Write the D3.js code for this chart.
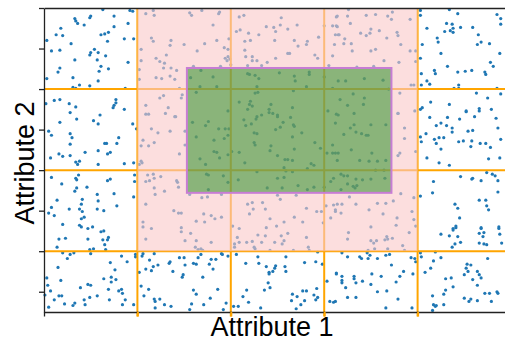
<!DOCTYPE html>
<html>
<head>
<meta charset="utf-8">
<script src="https://cdn.jsdelivr.net/npm/d3@7"></script>
<style>
  body { margin: 0; background: #fff; }
  svg { display: block; }
</style>
</head>
<body>
<svg id="chart" width="505" height="342"></svg>
<script>
// axis ranges and ticks (no tick labels on this chart)
var xDomain = [0, 5];
var yDomain = [0.25, 4];
var xTicks = [0, 1, 2, 3, 4, 5];
var yTicks = [0.5, 1, 1.5, 2, 2.5, 3, 3.5, 4];

// orange split lines
var gridX = [1, 2, 3, 4];
var gridY = [1, 2, 3];

// shaded boxes
var pinkX = [1, 4];
var pinkY = [1, 4];
var greenX = [1.53, 3.72];
var greenY = [1.72, 3.26];

// scatter points
var points = [
  // top left cell
  [0.63,3.98],[0.92,3.97],[0.95,3.96],[0.75,3.90],[0.50,3.90],[0.49,3.88],[0.33,3.87],[0.34,3.84],
  [0.36,3.81],[0.43,3.79],[0.90,3.81],[0.18,3.75],[0.75,3.77],[0.69,3.70],[0.65,3.68],[0.13,3.67],
  [0.20,3.66],[0.61,3.67],[0.03,3.60],[0.29,3.56],[0.68,3.59],[0.86,3.62],[0.96,3.62],[0.08,3.47],
  [0.17,3.48],[0.54,3.49],[0.50,3.45],[0.49,3.42],[0.58,3.45],[0.57,3.36],[0.66,3.41],[0.33,3.36],
  [0.90,3.33],[0.17,3.26],[0.15,3.21],[0.61,3.28],[0.59,3.22],[0.69,3.25],[0.03,3.13],[0.31,3.14],
  [0.38,3.05],[0.58,3.10],[0.31,3.02],[0.34,3.01],[0.49,3.04],[0.87,3.01],
  [0.02,2.82],[0.11,2.86],[0.17,2.87],[0.27,2.82],[0.34,2.78],[0.77,2.87],[0.77,2.83],[0.75,2.80],
  [0.74,2.77],[0.86,2.75],
  // top, pink band
  [1.09,3.93],[1.17,3.97],[1.18,3.91],[1.15,3.63],[1.17,3.59],[1.04,3.49],[1.20,3.38],[1.24,3.34],
  [1.29,3.32],[1.28,3.26],[1.04,3.35],[1.02,3.24],[1.02,3.12],[1.20,3.14],[1.26,3.13],[1.31,3.42],
  [1.24,2.89],[1.28,2.92],[1.09,2.80],[1.33,2.77],
  [1.56,3.94],[1.58,3.91],[1.69,3.97],[1.88,3.95],[1.87,3.93],[1.81,3.79],[1.36,3.60],[1.35,3.54],
  [1.50,3.55],[1.72,3.56],[1.64,3.47],[1.85,3.60],[1.93,3.51],[1.97,3.49],[1.98,3.62],[1.94,3.38],
  [1.97,3.40],[1.99,3.37],[1.96,3.35],[1.89,3.28],[2.00,3.30],[1.36,3.26],[1.42,3.23],[1.60,3.28],
  [1.35,3.16],[1.40,3.12],[1.45,3.01],[1.48,2.93],[1.47,2.89],[1.40,2.66],
  [2.09,3.89],[2.14,3.91],[2.10,3.73],[2.06,3.71],[2.19,3.69],[2.30,3.67],[2.38,3.77],[2.46,3.76],
  [2.48,3.71],[2.54,3.88],[2.53,3.79],[2.61,3.74],[2.71,3.79],[2.21,3.60],[2.15,3.59],[2.47,3.60],
  [2.68,3.60],[2.72,3.53],[2.82,3.59],[2.81,3.55],[2.15,3.48],[2.23,3.40],[2.16,3.40],[2.23,3.35],
  [2.28,3.35],[2.39,3.33],[2.48,3.38],[2.61,3.44],[2.63,3.44],[2.18,3.29],[2.33,3.29],[2.90,3.42],
  [2.93,3.38],[2.94,3.64],[3.05,3.29],[3.09,3.41],[3.11,3.55],[3.12,3.67],[3.15,3.67],[3.09,3.78],
  [3.13,3.78],[3.13,3.89],[3.00,3.78],
  [3.14,3.90],[3.26,3.98],[3.25,3.90],[3.45,3.91],[3.55,3.92],[3.68,3.90],[3.73,3.95],[3.72,3.86],
  [3.92,3.86],[3.28,3.81],[3.14,3.77],[3.16,3.67],[3.39,3.69],[3.50,3.74],[3.49,3.69],[3.45,3.66],
  [3.59,3.72],[3.78,3.70],[3.79,3.66],[3.22,3.62],[3.21,3.56],[3.29,3.56],[3.67,3.63],[3.82,3.55],
  [3.30,3.47],[3.50,3.47],[3.55,3.49],[3.92,3.47],[3.98,3.47],[3.64,3.35],[3.80,3.33],[3.35,3.27],
  [3.53,3.28],[3.93,3.05],[3.96,3.05],[3.98,3.34],[3.81,2.95],[3.79,2.70],[3.97,2.73],
  // inside the green box, upper half
  [1.68,3.23],[1.57,3.14],[1.67,3.03],[1.81,3.15],[1.85,3.03],[1.63,2.96],[1.97,2.73],[2.18,3.19],
  [2.20,3.18],[2.26,3.17],[2.30,3.13],[2.28,3.03],[2.26,2.95],[2.29,2.96],[2.52,3.20],[2.68,3.16],
  [2.69,3.10],[2.84,3.21],[2.84,3.18],[2.67,2.98],[2.81,3.03],[3.00,3.15],[3.09,3.01],[2.09,2.84],
  [2.21,2.85],[2.20,2.81],[2.18,2.75],[2.23,2.79],[2.43,2.81],[2.41,2.75],[2.50,2.68],[2.66,2.77],
  [3.04,2.73],[2.28,2.66],
  [3.15,3.10],[3.23,3.10],[3.43,3.13],[3.63,3.11],[3.69,3.00],[3.31,2.94],[3.43,2.89],[3.17,2.87],
  [3.42,2.81],[3.25,2.80],[3.32,2.70],[3.15,2.68],
  // top right cell
  [4.03,3.97],[4.03,3.91],[4.34,3.98],[4.43,3.93],[4.85,3.92],[4.89,3.87],[4.31,3.81],[4.37,3.80],
  [4.38,3.75],[4.10,3.75],[4.29,3.71],[4.35,3.72],[4.38,3.70],[4.46,3.76],[4.59,3.76],[4.65,3.67],
  [4.89,3.80],[4.21,3.63],[4.22,3.58],[4.05,3.55],[4.68,3.58],[4.64,3.55],[4.77,3.56],[4.25,3.44],
  [4.88,3.44],[4.03,3.38],[4.78,3.33],[4.81,3.28],[4.32,3.28],[4.18,3.23],[4.19,3.19],[4.04,3.19],
  [4.43,3.21],[4.51,3.22],[4.58,3.23],[4.72,3.21],[4.73,3.18],[4.10,3.10],[4.13,3.06],[4.04,3.05],
  [4.44,3.05],[4.39,3.01],[4.44,3.01],[4.85,3.01],
  [4.05,2.77],[4.03,2.75],[4.14,2.84],[4.34,2.81],[4.63,2.95],[4.75,2.89],[4.89,2.94],[4.52,2.73],
  [4.66,2.76],[4.79,2.75],
  // middle left cells
  [0.28,2.71],[0.35,2.63],[0.17,2.59],[0.53,2.61],[0.58,2.57],[0.60,2.68],[0.05,2.48],[0.08,2.43],
  [0.28,2.45],[0.30,2.40],[0.28,2.32],[0.95,2.57],[0.99,2.51],[0.80,2.40],[0.78,2.33],[0.65,2.33],
  [0.67,2.33],[0.68,2.20],[0.71,2.22],[0.58,2.24],[0.44,2.22],[0.16,2.20],[0.20,2.17],[0.28,2.18],
  [0.07,2.15],[0.38,2.11],[0.36,2.07],[0.34,2.10],[0.58,2.07],[0.86,2.08],[0.96,2.09],
  [0.08,1.91],[0.37,1.94],[0.34,1.90],[0.35,1.88],[0.19,1.83],[0.35,1.78],[0.33,1.74],[0.46,1.79],
  [0.68,1.87],[0.71,1.89],[0.97,1.94],[0.97,1.86],[0.57,1.70],[0.58,1.62],[0.75,1.71],[0.96,1.67],
  [0.14,1.63],[0.41,1.64],[0.40,1.58],[0.08,1.54],[0.05,1.47],[0.11,1.44],[0.27,1.52],[0.38,1.52],
  [0.57,1.52],[0.64,1.50],[0.78,1.56],[0.41,1.49],[0.43,1.42],[0.40,1.40],[0.20,1.33],[0.38,1.32],
  [0.40,1.30],[0.47,1.28],[0.52,1.30],
  // middle, pink band
  [1.09,2.69],[1.12,2.69],[1.30,2.70],[1.15,2.51],[1.22,2.46],[1.06,2.37],[1.04,2.30],[1.12,2.30],
  [1.18,2.34],[1.04,2.11],[1.05,2.09],[1.02,2.07],[1.11,1.94],[1.17,1.95],[1.13,1.87],[1.18,1.90],
  [1.09,1.86],[1.25,1.92],[1.18,1.78],[1.19,1.70],[1.29,1.74],[1.09,1.58],[1.06,1.36],[1.06,1.30],
  [1.15,1.28],
  [1.41,2.66],[1.35,2.48],[1.51,2.48],[1.51,2.31],[1.45,2.20],[1.42,1.87],[1.43,1.85],[1.44,1.79],
  [1.39,1.50],[1.44,1.47],[1.47,1.47],[1.47,1.29],
  [1.56,1.70],[1.69,1.66],[1.75,1.67],[1.90,1.70],[2.09,1.28],[2.02,1.31],[1.71,1.46],[1.79,1.44],
  [1.83,1.40],[1.90,1.42],[1.63,1.37],[1.72,1.36],[2.18,1.58],[2.23,1.60],[2.34,1.60],[2.24,1.52],
  [2.20,1.46],[2.37,1.52],[2.50,1.69],[2.53,1.64],[2.70,1.69],[2.81,1.53],[2.68,1.42],[2.42,1.40],
  [2.77,1.36],[2.57,1.36],[2.38,1.29],[2.49,1.31],[2.92,1.49],[2.97,1.49],[3.02,1.56],[3.10,1.57],
  [3.07,1.41],[3.12,1.49],[2.99,1.35],
  // inside the green box, lower half
  [1.59,2.59],[1.76,2.60],[1.73,2.55],[1.87,2.51],[1.94,2.51],[1.98,2.51],[1.63,2.41],[1.82,2.37],
  [1.93,2.39],[1.97,2.43],[1.82,2.23],[1.85,2.22],[1.97,2.19],[2.01,2.23],[2.09,2.22],[1.67,2.14],
  [1.73,2.07],[1.88,2.15],[2.15,2.09],[1.74,1.95],[1.76,1.94],[1.92,1.93],[1.97,1.85],[2.08,1.88],
  [1.76,1.76],[2.14,2.62],[2.16,2.55],[2.22,2.57],[2.27,2.63],[2.33,2.68],[2.41,2.71],[2.45,2.70],
  [2.50,2.66],[2.64,2.65],[2.56,2.59],[2.67,2.56],[2.68,2.54],[2.48,2.50],[2.53,2.53],[2.25,2.46],
  [2.28,2.45],[2.76,2.46],[2.66,2.41],[2.25,2.34],[2.26,2.31],[2.43,2.30],[2.42,2.24],[2.68,2.26],
  [2.90,2.34],[2.96,2.27],[2.50,2.18],[2.58,2.13],[2.61,2.13],[2.66,2.12],[2.86,2.08],[2.89,2.06],
  [2.82,2.02],[2.57,2.03],[2.59,1.99],[2.28,1.98],[2.66,1.98],[2.50,1.90],[2.57,1.91],[2.72,1.81],
  [2.82,1.76],[2.89,1.79],[2.39,1.78],[2.55,1.78],[3.03,2.21],[3.09,2.21],[3.09,2.31],[3.10,1.90],
  [3.07,1.86],[3.00,1.79],
  [3.13,2.69],[3.12,2.58],[3.28,2.52],[3.32,2.56],[3.34,2.47],[3.40,2.45],[3.45,2.43],[3.47,2.43],
  [3.21,2.44],[3.50,2.56],[3.66,2.56],[3.12,2.21],[3.15,2.21],[3.29,2.25],[3.38,2.12],[3.14,2.12],
  [3.51,2.21],[3.48,2.11],[3.57,2.11],[3.66,2.12],[3.55,2.00],[3.64,2.00],[3.18,1.95],[3.21,1.93],
  [3.25,1.93],[3.34,1.89],[3.41,1.88],[3.50,1.89],[3.65,1.90],[3.25,1.83],[3.31,1.80],[3.35,1.81],
  [3.33,1.78],[3.18,1.76],
  // right side of the pink band, middle
  [3.79,2.70],[3.86,2.52],[3.86,2.39],[3.81,2.21],[3.79,2.18],[3.98,2.23],[3.82,1.71],[3.74,1.62],
  [3.66,1.59],[3.96,1.66],[3.14,1.58],[3.19,1.58],[3.34,1.58],[3.27,1.67],[3.57,1.59],[3.94,1.49],
  [3.48,1.51],[3.63,1.46],[3.12,1.51],[3.18,1.47],[3.78,1.41],[3.77,1.32],[3.96,1.39],[3.50,1.30],
  [3.98,1.31],
  // middle right cells
  [4.13,2.65],[4.20,2.55],[4.25,2.58],[4.32,2.65],[4.31,2.55],[4.37,2.52],[4.37,2.47],[4.45,2.63],
  [4.52,2.72],[4.66,2.73],[4.61,2.66],[4.84,2.64],[4.54,2.48],[4.59,2.49],[4.86,2.52],[4.03,2.41],
  [4.04,2.35],[4.09,2.45],[4.18,2.38],[4.23,2.40],[4.28,2.40],[4.20,2.33],[4.25,2.26],[4.44,2.35],
  [4.49,2.36],[4.58,2.36],[4.57,2.29],[4.67,2.33],[4.73,2.33],[4.78,2.28],[4.89,2.38],[4.10,2.15],
  [4.23,2.09],[4.34,2.06],[4.76,2.14],[4.88,2.15],[4.74,1.97],[4.80,1.95],[4.83,1.93],[4.46,1.92],
  [4.59,1.90],[4.58,1.89],[4.68,1.87],[4.86,1.87],[4.17,1.86],[4.16,1.72],[4.86,1.73],[4.66,1.63],
  [4.73,1.63],[4.40,1.58],[4.43,1.53],[4.74,1.56],[4.76,1.51],[4.45,1.41],[4.41,1.31],[4.38,1.28],
  [4.68,1.29],[4.87,1.30],[4.03,1.68],
  // bottom left cell
  [0.61,1.24],[0.64,1.25],[0.16,1.15],[0.23,1.16],[0.47,1.15],[0.63,1.14],[0.68,1.14],[0.69,1.17],
  [0.65,1.08],[0.14,1.05],[0.49,1.02],[0.53,1.03],[0.50,0.97],[0.66,1.02],[0.20,0.98],[0.28,0.96],
  [0.32,0.98],[0.25,0.91],[0.83,0.94],[0.98,0.96],[0.98,0.93],[0.71,0.86],[0.89,0.87],[0.15,0.80],
  [0.76,0.77],[0.72,0.68],[0.77,0.65],[0.72,0.62],[0.64,0.66],[0.18,0.64],[0.03,0.67],[0.04,0.58],
  [0.07,0.51],[0.01,0.46],[0.47,0.59],[0.50,0.58],[0.39,0.55],[0.69,0.53],[0.80,0.51],[0.83,0.53],
  [0.84,0.48],[0.16,0.45],[0.19,0.45],[0.11,0.40],[0.49,0.43],[0.57,0.45],[0.43,0.40],[0.70,0.40],
  [0.87,0.40],[0.22,0.35],[0.31,0.33],[0.33,0.36],[0.44,0.34],[0.84,0.34],[0.96,0.34],[0.05,0.31],
  // bottom of the pink band
  [1.09,1.15],[1.47,1.24],[1.57,1.22],[1.51,1.13],[1.63,1.13],[1.79,1.11],[1.62,1.05],[1.65,1.02],
  [1.68,1.03],[1.70,1.01],[2.07,1.17],[2.09,1.11],[2.04,1.09],[2.04,1.05],[2.25,1.05],[2.26,1.03],
  [2.17,1.11],[2.23,1.12],[2.33,1.11],[2.29,1.20],[2.37,1.19],[2.47,1.11],[2.42,1.01],[2.54,1.19],
  [2.61,1.22],[2.57,1.13],[2.55,1.09],[2.81,1.17],[2.83,1.05],[2.84,1.01],[2.67,1.01],[2.93,0.99],
  [3.26,1.23],[3.25,1.15],[3.50,1.13],[3.56,1.13],[3.53,1.10],[3.54,1.03],[3.67,1.18],[3.68,1.15],
  [3.68,1.03],[3.65,1.14],[3.47,1.01],[3.46,0.98],[3.73,1.16],[3.84,1.07],[3.86,1.01],[3.91,1.23],
  [3.19,0.98],
  // bottom middle cells
  [1.05,0.94],[1.06,0.97],[1.18,0.97],[1.13,0.89],[1.22,0.83],[1.17,0.81],[1.09,0.78],[1.02,0.74],
  [1.15,0.76],[1.04,0.57],[1.12,0.53],[1.07,0.45],[1.18,0.41],[1.19,0.38],[1.24,0.41],[1.19,0.30],
  [1.29,0.34],[1.34,0.85],
  [1.35,0.87],[1.38,0.75],[1.45,0.92],[1.50,0.92],[1.51,0.83],[1.60,0.85],[1.63,0.84],[1.68,0.96],
  [1.65,0.92],[1.77,0.84],[1.79,0.90],[1.81,0.78],[1.84,0.90],[1.90,0.97],[1.91,0.96],[1.97,0.94],
  [1.48,0.68],[1.49,0.71],[1.70,0.68],[1.60,0.52],[1.63,0.47],[1.86,0.53],[1.78,0.42],[1.71,0.34],
  [1.58,0.35],[1.36,0.32],[1.95,0.36],[1.92,0.28],[1.56,0.28],[2.03,0.32],[2.08,0.32],
  [2.16,0.85],[2.30,0.85],[2.38,0.81],[2.06,0.96],[2.29,0.93],[2.41,0.74],[2.41,0.72],[2.48,0.82],
  [2.47,0.79],[2.45,0.75],[2.58,0.81],[2.59,0.75],[2.59,0.93],[2.40,0.61],[2.36,0.52],[2.42,0.55],
  [2.17,0.52],[2.19,0.37],[2.13,0.44],[2.32,0.30],[2.66,0.47],[2.71,0.44],[2.65,0.39],[2.77,0.51],
  [2.81,0.51],[2.79,0.39],[2.92,0.54],[2.89,0.46],[2.91,0.40],[2.93,0.43],[2.70,0.29],[2.75,0.34],
  [2.79,0.86],[2.91,0.87],[2.98,0.84],[3.03,0.63],[3.06,0.38],[3.10,0.37],[3.13,0.73],
  [3.25,0.93],[3.38,0.93],[3.40,0.91],[3.49,0.95],[3.47,0.91],[3.57,0.91],[3.70,0.96],[3.66,0.95],
  [3.93,0.92],[3.98,0.87],[3.97,0.91],[3.72,0.83],[3.13,0.72],[3.19,0.69],[3.19,0.64],[3.19,0.61],
  [3.23,0.55],[3.32,0.69],[3.32,0.66],[3.34,0.61],[3.41,0.63],[3.51,0.72],[3.50,0.59],[3.61,0.69],
  [3.77,0.62],[3.81,0.69],[3.85,0.75],[3.57,0.50],[3.67,0.51],[3.25,0.43],[3.34,0.43],[3.12,0.38],
  [3.79,0.41],[3.66,0.30],[3.94,0.30],[3.95,0.72],
  // bottom right cell
  [4.03,0.98],[4.04,0.93],[4.19,0.99],[4.25,1.21],[4.34,1.19],[4.38,1.26],[4.41,1.29],[4.43,1.18],
  [4.40,1.09],[4.46,1.11],[4.37,1.05],[4.68,1.28],[4.71,1.23],[4.66,1.22],[4.70,1.18],[4.66,1.10],
  [4.71,1.09],[4.74,1.08],[4.87,1.28],[4.88,1.21],[4.90,1.10],[4.17,0.88],[4.25,0.92],[4.14,0.79],
  [4.08,0.74],[4.53,0.84],[4.57,0.83],[4.52,0.79],[4.54,0.75],[4.50,0.71],[4.64,0.75],[4.66,0.71],
  [4.68,0.67],[4.75,0.91],[4.30,0.66],[4.36,0.67],[4.59,0.65],[4.64,0.58],[4.38,0.56],[4.30,0.52],
  [4.28,0.47],[4.16,0.45],[4.72,0.48],[4.77,0.48],[4.85,0.50],[4.86,0.48],[4.50,0.42],[4.57,0.41],
  [4.55,0.38],[4.64,0.39],[4.79,0.38],[4.17,0.34],[4.19,0.32],[4.20,0.33],[4.28,0.34],[4.16,0.27]
];

var svg = d3.select("#chart");

var x = d3.scaleLinear().domain(xDomain).range([44, 511]);
var y = d3.scaleLinear().domain(yDomain).range([312, 8]);

// points first, everything else is layered over them
svg.append("g")
    .selectAll("circle")
    .data(points)
    .enter().append("circle")
    .attr("cx", function(d) { return x(d[0]); })
    .attr("cy", function(d) { return y(d[1]); })
    .attr("r", 1.6)
    .attr("fill", "#1f77b4");

var lines = svg.append("g")
    .attr("stroke", "#ffa500")
    .attr("stroke-width", 2);

lines.selectAll(".vline")
    .data(gridX)
    .enter().append("line")
    .attr("class", "vline")
    .attr("x1", function(d) { return x(d); })
    .attr("x2", function(d) { return x(d); })
    .attr("y1", y(yDomain[1]))
    .attr("y2", y(yDomain[0]) + 4.5);

lines.selectAll(".hline")
    .data(gridY)
    .enter().append("line")
    .attr("class", "hline")
    .attr("x1", x(xDomain[0]))
    .attr("x2", x(xDomain[1]))
    .attr("y1", function(d) { return y(d); })
    .attr("y2", function(d) { return y(d); });

svg.append("rect")
    .attr("x", x(pinkX[0]))
    .attr("y", y(pinkY[1]))
    .attr("width", x(pinkX[1]) - x(pinkX[0]))
    .attr("height", y(pinkY[0]) - y(pinkY[1]))
    .attr("fill", "rgb(250,200,200)")
    .attr("fill-opacity", 0.6);

svg.append("rect")
    .attr("x", x(greenX[0]))
    .attr("y", y(greenY[1]))
    .attr("width", x(greenX[1]) - x(greenX[0]))
    .attr("height", y(greenY[0]) - y(greenY[1]))
    .attr("fill", "#008000")
    .attr("fill-opacity", 0.45)
    .attr("stroke", "#c77dd4")
    .attr("stroke-width", 2);

// axes: ticks without labels
var axisLeft = svg.append("g")
    .attr("transform", "translate(" + x(xDomain[0]) + ",0)")
    .call(d3.axisLeft(y).tickValues(yTicks).tickFormat("").tickSize(5).tickSizeOuter(0));

var axisBottom = svg.append("g")
    .attr("transform", "translate(0," + y(yDomain[0]) + ")")
    .call(d3.axisBottom(x).tickValues(xTicks).tickFormat("").tickSize(4.5).tickSizeOuter(0));

var axisTop = svg.append("g")
    .attr("transform", "translate(0," + y(yDomain[1]) + ")")
    .call(d3.axisTop(x).tickValues([]).tickSizeOuter(0));

svg.selectAll(".domain, .tick line")
    .attr("stroke", "#222")
    .attr("stroke-width", 1.3);

// orange split lines cover the x ticks under them
axisBottom.selectAll(".tick line")
    .filter(function(d) { return gridX.indexOf(d) >= 0; })
    .attr("stroke", "#ffa500")
    .attr("stroke-width", 2);

svg.append("text")
    .attr("x", 272)
    .attr("y", 336)
    .attr("text-anchor", "middle")
    .attr("font-family", "Liberation Sans, Arial, sans-serif")
    .attr("font-size", 27)
    .attr("fill", "#000")
    .text("Attribute 1");

svg.append("text")
    .attr("transform", "translate(34,163) rotate(-90)")
    .attr("text-anchor", "middle")
    .attr("font-family", "Liberation Sans, Arial, sans-serif")
    .attr("font-size", 27)
    .attr("fill", "#000")
    .text("Attribute 2");
</script>
</body>
</html>
